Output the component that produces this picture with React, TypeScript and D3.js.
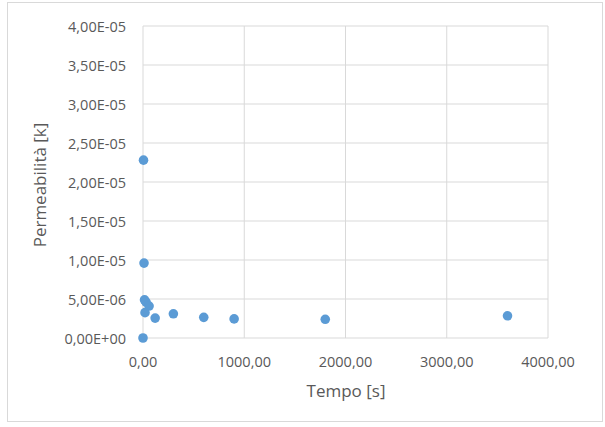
import React from "react";
import { scaleLinear } from "d3";

// Tempo [s] e permeabilità [k]
const tempo = [0, 5, 10, 15, 20, 30, 60, 120, 300, 600, 900, 1800, 3600];
const permeabilita = [
  0, 2.28e-5, 9.6e-6, 4.9e-6, 3.25e-6, 4.6e-6, 4.1e-6, 2.55e-6, 3.1e-6, 2.65e-6, 2.45e-6, 2.4e-6, 2.85e-6,
];

const xTicks = [0, 1000, 2000, 3000, 4000];
const yTicks = [0, 5e-6, 1e-5, 1.5e-5, 2e-5, 2.5e-5, 3e-5, 3.5e-5, 4e-5];

const WIDTH = 605;
const HEIGHT = 427;
const PLOT = { left: 143, right: 548, top: 26, bottom: 338 };
const FONT = "'Open Sans', 'Liberation Sans', sans-serif";
const TEXT = "#595959";
const GRID = "#d9d9d9";
const DOT = "#5b9bd5";

const fmtX = (v: number) => v.toFixed(2).replace(".", ",");
const fmtY = (v: number) => {
  if (v === 0) return "0,00E+00";
  const exp = Math.floor(Math.log10(v) + 1e-9);
  const mant = v / Math.pow(10, exp);
  const sign = exp < 0 ? "-" : "+";
  return `${mant.toFixed(2).replace(".", ",")}E${sign}${String(Math.abs(exp)).padStart(2, "0")}`;
};

export default function App() {
  const x = scaleLinear().domain([0, 4000]).range([PLOT.left, PLOT.right]);
  const y = scaleLinear().domain([0, 4e-5]).range([PLOT.bottom, PLOT.top]);

  return (
    <svg
      width={WIDTH}
      height={HEIGHT}
      style={{ position: "absolute", left: 0, top: 0, display: "block", background: "#fff" }}
      fontFamily={FONT}
    >
      {/* chart border */}
      <rect x={7.5} y={2.5} width={595} height={419} fill="#fff" stroke="#d9d9d9" strokeWidth={1} />

      {/* horizontal grid + y labels */}
      {yTicks.map((t) => (
        <g key={`y${t}`}>
          <line x1={PLOT.left} x2={PLOT.right} y1={y(t)} y2={y(t)} stroke={GRID} strokeWidth={1} />
          <text x={126} y={y(t) + 5.5} textAnchor="end" fontSize={14.5} fill={TEXT}>
            {fmtY(t)}
          </text>
        </g>
      ))}

      {/* vertical grid + x labels */}
      {xTicks.map((t) => (
        <g key={`x${t}`}>
          <line x1={x(t)} x2={x(t)} y1={PLOT.top} y2={PLOT.bottom} stroke={GRID} strokeWidth={1} />
          <text x={x(t)} y={367} textAnchor="middle" fontSize={14.5} fill={TEXT}>
            {fmtX(t)}
          </text>
        </g>
      ))}

      {/* axis titles */}
      <text x={346} y={397} textAnchor="middle" fontSize={17} fill={TEXT}>
        Tempo [s]
      </text>
      <text
        transform={`translate(46, ${(PLOT.top + PLOT.bottom) / 2 + 3}) rotate(-90)`}
        textAnchor="middle"
        fontSize={17}
        fill={TEXT}
      >
        Permeabilità [k]
      </text>

      {/* points */}
      {tempo.map((t, i) => (
        <circle key={i} cx={x(t)} cy={y(permeabilita[i])} r={4.8} fill={DOT} />
      ))}
    </svg>
  );
}
